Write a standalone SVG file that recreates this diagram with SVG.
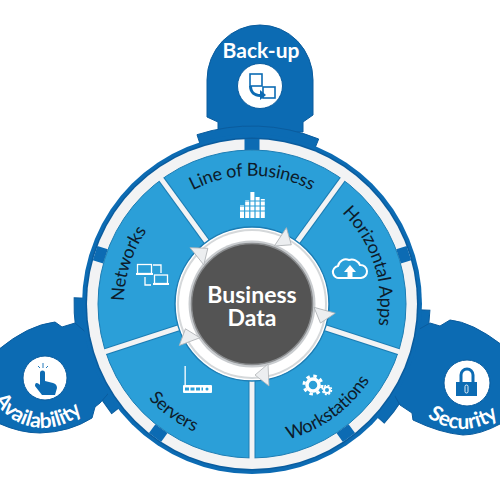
<svg xmlns="http://www.w3.org/2000/svg" width="500" height="500" viewBox="0 0 500 500">
<style>
.tab{fill:#0c6bb3;stroke:#0a5c9e;stroke-width:1}
.disc{fill:#fff;stroke:#0a5c9e;stroke-width:1}
.lbl{font-family:"Lato","Liberation Sans",sans-serif;font-size:18px;letter-spacing:-.25px;fill:#0d1b2a;text-anchor:middle}
.tl{font-family:"Lato","Liberation Sans",sans-serif;font-size:21px;font-weight:700;fill:#fff;text-anchor:middle}
.ctr{font-family:"Lato","Liberation Sans",sans-serif;font-size:23px;font-weight:700;fill:#fff;text-anchor:middle}
.ws{fill:none;stroke:#fff;stroke-width:2}
.wf{fill:#fff}
.bf{fill:#0c6bb3}
.bs{fill:none;stroke:#0c6bb3;stroke-width:1.6}
.spu{stroke:#1c7db4;stroke-width:7}
.sp{stroke:#f2f3f4;stroke-width:5}
.gap{fill:#0c6bb3}
.arr{fill:#eceef0;stroke:#aeb2b5;stroke-width:.8}
</style>
<defs>
<path id="band" class="tab" d="M197,134.7 A178,178 0 0 1 318.7,139 L314.2,150 A166,166 0 0 0 200.7,146 Z"/>
<path id="topArc" d="M125.9,281.8 A128,128 0 0 1 378.1,281.8"/>
<path id="botArc" d="M114.1,328.3 A140,140 0 0 0 389.9,328.3"/>
<path id="availArc" d="M-13,372 A56,56 0 0 0 99,372" transform="rotate(8 43 372)"/>
<path id="secArc" d="M406,372 A57,57 0 0 0 520,372"/>
<polygon id="head" points="249,233 235,222 236,244"/>
</defs>
<g id="backup">
<path class="tab" d="M207,80 A53,55 0 0 1 313,80 L313,115 L303,122 L303,132 L218,132 L218,122 L207,117 Z"/>
<use href="#band"/>
<circle class="disc" cx="260" cy="86" r="22.5"/>
<rect class="bs" x="250" y="74" width="12" height="12"/>
<rect class="bs" x="263" y="87" width="12" height="11"/>
<path class="bf" d="M252,86 C252,92 256,94 260,94 L260,90 L266,95 L260,100 L260,97 C254,97 249,93 249,86 Z"/>
<text class="tl" x="261" y="58">Back-up</text>
</g>
<g id="availability">
<use href="#band" transform="rotate(250 252 304)"/>
<path class="tab" d="M75,323 L62,327 L55,322 Q28,325 -2,350 L-2,423 Q20,433 40,433 Q70,432 92,418 L95,407 L100,403 L120,380 L95,340 Z"/>
<circle class="disc" cx="45" cy="378" r="22"/>
<path class="bf" d="M40,373 a2.500,2.500 0 0 1 5,0 L45,381 L53,383 Q57,384 57,388 L55,395 L42,395 L35,386 Q35,381 39,384 L40,385 Z"/>
<path class="bs" style="stroke-width:.9" d="M43,363 V368 M38,366 L40,368 M48,366 L46,368"/>
<text class="tl"><textPath href="#availArc" startOffset="50%">Availability</textPath></text>
</g>
<g id="security">
<use href="#band" transform="rotate(110 252 304)"/>
<path class="tab" d="M430,323 L440,326 L450,320 Q472,322 502,345 L502,423 Q480,435 463,435 Q440,433 413,420 L412,413 L400,405 L380,370 L400,340 Z"/>
<circle class="disc" cx="467" cy="383" r="23"/>
<path class="bs" style="stroke-width:3" d="M461,383 V375 a6,6 0 0 1 12,0 V383"/>
<rect class="bf" x="456" y="382" width="21" height="14"/>
<rect x="465" y="385" width="3" height="8" rx="1.500" fill="none" stroke="#fff" stroke-width=".9"/>
<text class="tl"><textPath href="#secArc" startOffset="50%">Security</textPath></text>
</g>
<g id="ring">
<circle cx="252" cy="304" r="170" fill="#0c6bb3"/>
<circle cx="252" cy="304" r="166.500" fill="#0a5c9e"/>
<circle cx="252" cy="304" r="165" fill="#f2f3f4"/>
<rect class="gap" x="244.500" y="139" width="15" height="11"/>
<rect class="gap" x="244.500" y="139" width="15" height="11" transform="rotate(72 252 304)"/>
<rect class="gap" x="244.500" y="139" width="15" height="11" transform="rotate(144 252 304)"/>
<rect class="gap" x="244.500" y="139" width="15" height="11" transform="rotate(216 252 304)"/>
<rect class="gap" x="244.500" y="139" width="15" height="11" transform="rotate(288 252 304)"/>
<circle cx="252" cy="304" r="154" fill="#2b9fd8" stroke="#1c7db4" stroke-width="1"/>
</g>
<g id="connectors">
<g fill="none">
<line class="spu" x1="252" y1="229" x2="252" y2="150" transform="rotate(36 252 304)"/>
<line class="spu" x1="252" y1="229" x2="252" y2="150" transform="rotate(108 252 304)"/>
<line class="spu" x1="252" y1="229" x2="252" y2="150" transform="rotate(180 252 304)"/>
<line class="spu" x1="252" y1="229" x2="252" y2="150" transform="rotate(252 252 304)"/>
<line class="spu" x1="252" y1="229" x2="252" y2="150" transform="rotate(324 252 304)"/>
<line class="sp" x1="252" y1="229" x2="252" y2="149" transform="rotate(36 252 304)"/>
<line class="sp" x1="252" y1="229" x2="252" y2="149" transform="rotate(108 252 304)"/>
<line class="sp" x1="252" y1="229" x2="252" y2="149" transform="rotate(180 252 304)"/>
<line class="sp" x1="252" y1="229" x2="252" y2="149" transform="rotate(252 252 304)"/>
<line class="sp" x1="252" y1="229" x2="252" y2="149" transform="rotate(324 252 304)"/>
</g>
<circle cx="252" cy="304" r="77" fill="#fff" stroke="#1c7db4" stroke-width="1.500"/>
<circle cx="252" cy="304" r="75" fill="#d5d8da"/>
<circle cx="252" cy="304" r="73" fill="#fff"/>
<circle cx="252" cy="304" r="63.500" fill="#c9cccf"/>
<use href="#head" class="arr" transform="rotate(36 252 304)"/>
<use href="#head" class="arr" transform="rotate(108 252 304)"/>
<use href="#head" class="arr" transform="rotate(180 252 304)"/>
<use href="#head" class="arr" transform="rotate(252 252 304)"/>
<use href="#head" class="arr" transform="rotate(324 252 304)"/>
</g>
<g id="line-of-business">
<g class="wf">
<rect x="240" y="205" width="4" height="13"/><rect x="245.200" y="200" width="4" height="18"/><rect x="250.400" y="192" width="4" height="26"/><rect x="255.600" y="197" width="4" height="21"/><rect x="260.800" y="199" width="4" height="19"/>
</g>
<path d="M238,201 H267 M238,206 H267 M238,211 H267" stroke="#2b9fd8" stroke-width="1"/>
<text class="lbl"><textPath href="#topArc" startOffset="50%">Line of Business</textPath></text>
</g>
<g id="horizontal-apps">
<path class="ws" d="M340,278 A6,6 0 0 1 338,266 A8,8 0 0 1 349,260 A9,9 0 0 1 360,265 A6,6 0 0 1 361,278 Z"/>
<path class="wf" d="M347.500,279 V272 H344 L350,265 L356,272 H352.500 V279 Z"/>
<text class="lbl" transform="rotate(72 252 304)"><textPath href="#topArc" startOffset="50%">Horizontal Apps</textPath></text>
</g>
<g id="workstations">
<circle cx="313" cy="385" r="6" fill="none" stroke="#fff" stroke-width="3.500"/>
<circle cx="313" cy="385" r="9" fill="none" stroke="#fff" stroke-width="3" stroke-dasharray="3.500 3.570"/>
<circle cx="327" cy="390" r="3" fill="none" stroke="#fff" stroke-width="2"/>
<circle cx="327" cy="390" r="4.500" fill="none" stroke="#fff" stroke-width="1.500" stroke-dasharray="2 1.530"/>
<text class="lbl" transform="rotate(-36 252 304)"><textPath href="#botArc" startOffset="50%">Workstations</textPath></text>
</g>
<g id="servers">
<rect class="wf" x="184.500" y="366" width="1.300" height="20"/>
<rect class="wf" x="183" y="385" width="29" height="8" rx="1"/>
<path d="M185,389 H203" stroke="#2b9fd8" stroke-width="3" stroke-dasharray="4 1.500" fill="none"/>
<circle cx="207" cy="389" r="1.500" fill="#2b9fd8"/>
<text class="lbl" transform="rotate(36 252 304)"><textPath href="#botArc" startOffset="50%">Servers</textPath></text>
</g>
<g id="networks">
<rect class="ws" style="stroke-width:1.300" x="137.500" y="264.500" width="14" height="9"/>
<rect class="wf" x="136" y="273" width="17" height="2"/>
<rect class="ws" style="stroke-width:1.300" x="154.500" y="275" width="13" height="8.500"/>
<rect class="wf" x="153" y="283" width="16" height="2"/>
<path class="ws" style="stroke-width:1.300" d="M153,265 H161 V273 M145,277 V285 H151"/>
<text class="lbl" transform="rotate(288 252 304)"><textPath href="#topArc" startOffset="50%">Networks</textPath></text>
</g>
<g id="business-data">
<circle cx="252" cy="304" r="60.500" fill="#545454" stroke="#8a8c8e" stroke-width="1.500"/>
<text class="ctr" x="252" y="303">Business</text>
<text class="ctr" x="252" y="326">Data</text>
</g>
</svg>
